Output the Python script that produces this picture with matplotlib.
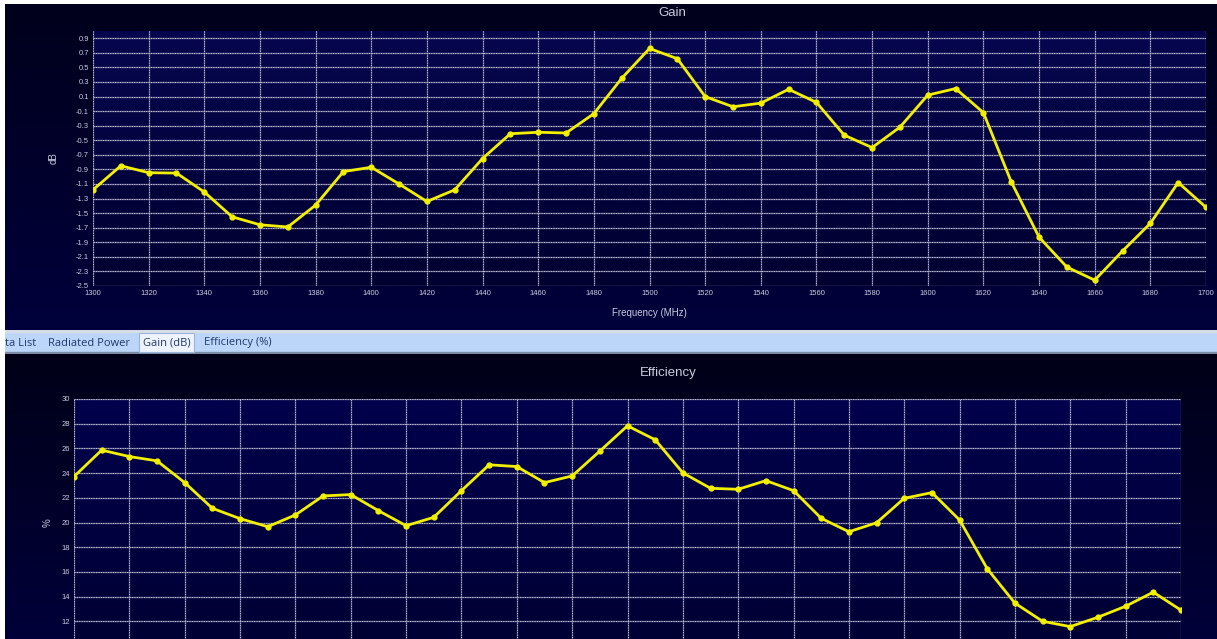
import numpy as np
import matplotlib.pyplot as plt
from matplotlib.patches import Rectangle

# Frequency sweep (MHz) shared by both panels
freq = [1300, 1310, 1320, 1330, 1340, 1350, 1360, 1370, 1380, 1390,
        1400, 1410, 1420, 1430, 1440, 1450, 1460, 1470, 1480, 1490,
        1500, 1510, 1520, 1530, 1540, 1550, 1560, 1570, 1580, 1590,
        1600, 1610, 1620, 1630, 1640, 1650, 1660, 1670, 1680, 1690, 1700]

gain_db = [-1.18, -0.85, -0.945, -0.95, -1.21, -1.55, -1.66, -1.69, -1.39, -0.93,
           -0.87, -1.10, -1.34, -1.18, -0.75, -0.41, -0.39, -0.40, -0.135, 0.35,
           0.76, 0.62, 0.10, -0.04, 0.01, 0.20, 0.02, -0.43, -0.60, -0.32,
           0.12, 0.21, -0.12, -1.07, -1.83, -2.24, -2.42, -2.02, -1.64, -1.08, -1.42]

efficiency = [23.72, 25.86, 25.34, 24.99, 23.23, 21.15, 20.31, 19.66, 20.61, 22.15,
              22.26, 20.96, 19.74, 20.42, 22.58, 24.67, 24.53, 23.23, 23.77, 25.78,
              27.83, 26.70, 24.02, 22.77, 22.69, 23.39, 22.58, 20.34, 19.25, 19.98,
              21.96, 22.42, 20.20, 16.25, 13.47, 12.00, 11.57, 12.33, 13.22, 14.36, 12.90]

x_ticks = list(range(1300, 1701, 20))
gain_ticks = [round(0.9 - 0.2 * i, 1) for i in range(18)]
eff_ticks = list(range(12, 31, 2))

tabs = ['ta List', 'Radiated Power', 'Gain (dB)', 'Efficiency (%)']

W, H = 1217, 639
LINE = '#f2f000'
TXT = '#c8ccdc'
plt.rcParams['font.family'] = ['Liberation Sans', 'DejaVu Sans']

fig = plt.figure(figsize=(W / 100, H / 100), dpi=100, facecolor='white')


def px_rect(x0, y0, x1, y1):
    """pixel box (top-left origin) -> figure fraction rect"""
    return [x0 / W, 1 - y1 / H, (x1 - x0) / W, (y1 - y0) / H]


def gradient_axes(rect, top, bottom, z):
    a = fig.add_axes(rect, zorder=z)
    c0 = np.array(plt.matplotlib.colors.to_rgb(top))
    c1 = np.array(plt.matplotlib.colors.to_rgb(bottom))
    t = np.linspace(0, 1, 256)[:, None, None]
    img = c0 * (1 - t) + c1 * t
    a.imshow(img, aspect='auto', extent=[0, 1, 0, 1], interpolation='bilinear')
    a.set_axis_off()
    return a


def style_grid(ax, xt, yt):
    for v in xt:
        ax.axvline(v, color='#4c4c7a', lw=1.0, zorder=1)
        ax.axvline(v, color='#c4c4d6', lw=0.75, dashes=(1, 1.3), zorder=1.5)
    for v in yt:
        ax.axhline(v, color='#5e5e8a', lw=1.0, zorder=1)
        ax.axhline(v, color='#c4c4d6', lw=0.75, dashes=(1, 1.3), zorder=1.5)
    for s in ax.spines.values():
        s.set_visible(False)
    ax.set_facecolor('none')
    ax.tick_params(length=0, colors=TXT, labelsize=5.5, pad=3)


# ---- top panel: Gain ----
gradient_axes(px_rect(5, 4, W, 330), '#00001c', '#00003c', 0)
top_rect = px_rect(93, 31, 1206, 286)
gradient_axes(top_rect, '#06064f', '#000030', 1)
ax1 = fig.add_axes(top_rect, zorder=2)
style_grid(ax1, x_ticks, gain_ticks)
ax1.plot(freq, gain_db, color=LINE, lw=2, marker='o', ms=3.5, zorder=3)
ax1.set_xlim(1300, 1700)
ax1.set_ylim(-2.5, 1.0)
ax1.set_xticks(x_ticks)
ax1.set_yticks(gain_ticks)
ax1.set_yticklabels([f'{v:.1f}' for v in gain_ticks])
ax1.set_xlabel('Frequency (MHz)', color=TXT, fontsize=7, labelpad=8)
ax1.set_ylabel('dB', color=TXT, fontsize=7, labelpad=12)
fig.text(672 / W, 1 - 13 / H, 'Gain', color=TXT, fontsize=9.5,
         ha='center', va='center')

# ---- tab strip ----
tab_ax = fig.add_axes(px_rect(5, 330, W, 354), zorder=5)
tab_ax.set_xlim(5, W)
tab_ax.set_ylim(354, 330)
tab_ax.set_axis_off()
tab_ax.add_patch(Rectangle((5, 330), W, 24, color='#bcd6fa'))
tab_ax.add_patch(Rectangle((5, 330), W, 2, color='#d6dce8'))
tab_ax.add_patch(Rectangle((5, 352), W, 2, color='#7c8aa4'))
tab_ax.add_patch(Rectangle((139, 333), 55, 19, facecolor='#eef4fe',
                           edgecolor='#9cb4d8', lw=0.8))
tab_x = [5, 48, 143, 204]
for label, xx in zip(tabs, tab_x):
    tab_ax.text(xx, 343, label, color='#22386a', fontsize=8,
                family=['Open Sans', 'DejaVu Sans'], ha='left', va='center')

# ---- bottom panel: Efficiency (axis runs past the bottom edge) ----
gradient_axes(px_rect(5, 354, W, H), '#000018', '#00003a', 0)
bot_rect = px_rect(74, 399, 1181, 646)
gradient_axes(bot_rect, '#00004c', '#000034', 1)
ax2 = fig.add_axes(bot_rect, zorder=2)
style_grid(ax2, x_ticks, eff_ticks)
ax2.plot(freq, efficiency, color=LINE, lw=2, marker='o', ms=3.5, zorder=3)
ax2.set_xlim(1300, 1700)
ax2.set_ylim(10, 30)
ax2.set_xticks(x_ticks)
ax2.set_yticks(eff_ticks)
ax2.tick_params(labelbottom=False)
ax2.set_ylabel('%', color=TXT, fontsize=7, labelpad=6)
fig.text(668 / W, 1 - 373 / H, 'Efficiency', color=TXT, fontsize=9.5,
         ha='center', va='center')

fig.savefig('out.png', dpi=100, facecolor='white')
